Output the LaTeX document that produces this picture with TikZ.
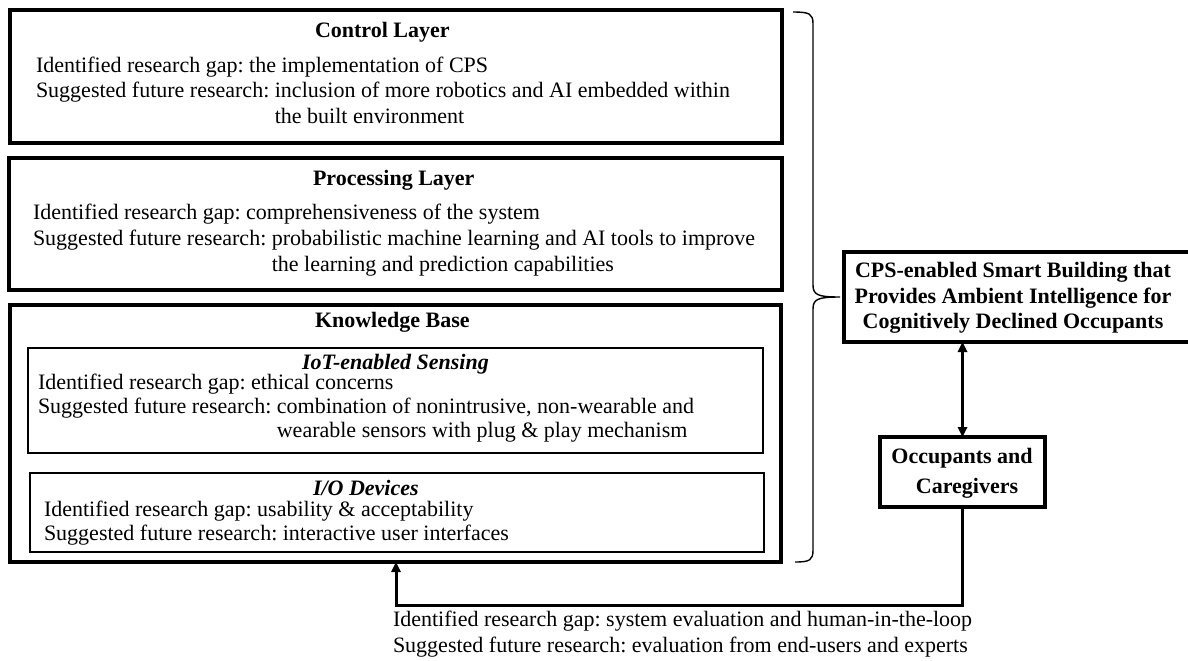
\documentclass[tikz,border=0pt]{standalone}
\usepackage{fontspec}
\setmainfont{Liberation Serif}
\usetikzlibrary{arrows.meta}
\frenchspacing

\newcommand{\hang}{\phantom{Suggested future research:\ }}

\begin{document}
\begin{tikzpicture}[x=0.5pt, y=-0.5pt,
  every node/.style={inner sep=0pt, outer sep=0pt},
  txt/.style={anchor=base west, font=\fontsize{11}{13}\selectfont},
  ttl/.style={anchor=base west, font=\fontsize{11}{13}\selectfont\bfseries},
  subttl/.style={anchor=base west, font=\fontsize{11}{13}\selectfont\bfseries\itshape},
  rtxt/.style={anchor=base, font=\fontsize{11}{13}\selectfont\bfseries},
  layer/.style={draw, line width=2pt, rectangle},
  inner/.style={draw, line width=0.7pt, rectangle},
  goal/.style={draw, line width=1.6pt, rectangle},
  tip/.style={Triangle[length=5pt, width=4.6pt]},
  link/.style={line width=1.5pt, -{Triangle[length=5pt, width=4.6pt]}},
  dlink/.style={line width=1.5pt, {Triangle[length=5pt, width=4.6pt]}-{Triangle[length=5pt, width=4.6pt]}},
  bracepath/.style={line width=0.7pt}
]
\useasboundingbox (0,0) rectangle (1188,660);
\clip (0,0) rectangle (1188,660);

% --- layer boxes ---
\node[layer, minimum width=386pt, minimum height=66.5pt] (ctrl) at (396,76.5) {};
\node[layer, minimum width=386.5pt, minimum height=66pt] (proc) at (395.5,224) {};
\node[layer, minimum width=385.5pt, minimum height=128.5pt] (kb) at (395.5,433.5) {};
\node[inner, minimum width=367.5pt, minimum height=52.5pt] (iot) at (395.5,400.5) {};
\node[inner, minimum width=367pt, minimum height=39.5pt] (io) at (397,512.5) {};

% --- Control Layer ---
\node[ttl] (ctrlT) at (315,37) {Control Layer};
\node[txt] (ctrl1) at (36,72) {Identified research gap: the implementation of CPS};
\node[txt] (ctrl2) at (36,97.5) {Suggested future research: inclusion of more robotics and AI embedded within};
\node[txt] (ctrl3) at (36,123) {\hang the built environment};

% --- Processing Layer ---
\node[ttl] (procT) at (313,185) {Processing Layer};
\node[txt] (proc1) at (33,219) {Identified research gap: comprehensiveness of the system};
\node[txt] (proc2) at (33,245) {Suggested future research: probabilistic machine learning and AI tools to improve};
\node[txt] (proc3) at (33,271) {\hang the learning and prediction capabilities};

% --- Knowledge Base ---
\node[ttl] (kbT) at (315,327) {Knowledge Base};
\node[subttl] (iotT) at (302,369) {IoT-enabled Sensing};
\node[txt] (iot1) at (38,389) {Identified research gap: ethical concerns};
\node[txt] (iot2) at (38,413) {Suggested future research: combination of nonintrusive, non-wearable and};
\node[txt] (iot3) at (38,437.5) {\hang wearable sensors with plug \& play mechanism};
\node[subttl] (ioT) at (313,495) {I/O Devices};
\node[txt] (io1) at (44,516.5) {Identified research gap: usability \& acceptability};
\node[txt] (io2) at (44,540.5) {Suggested future research: interactive user interfaces};

% --- right-hand boxes ---
\node[goal, minimum width=174pt, minimum height=45pt] (cps) at (1018,297) {};
\node[rtxt] (cps1) at (1013,277) {CPS-enabled Smart Building that};
\node[rtxt] (cps2) at (1013,303) {Provides Ambient Intelligence for};
\node[rtxt] (cps3) at (1013,328) {Cognitively Declined Occupants};

\node[goal, minimum width=82.5pt, minimum height=35pt] (occ) at (962.5,472) {};
\node[rtxt] (occ1) at (962,463) {Occupants and};
\node[rtxt] (occ2) at (967,493) {Caregivers};

% --- brace grouping the three layers ---
\coordinate (btop) at (793,12);
\coordinate (btip) at (840,297);
\coordinate (bbot) at (795,562);
\draw[bracepath] (btop) .. controls (810,12) and (813,14) .. (813,24)
  -- (813,285) .. controls (813,295) and (818,297) .. (btip)
  .. controls (818,297) and (813,299) .. (813,309)
  -- (813,550) .. controls (813,560) and (810,562) .. (bbot);

% --- connectors ---
\draw[dlink] (occ.north) -- (occ.north |- cps.south);
\coordinate (fb) at (396,605);
\draw[link] (occ.south) |- (fb) -- (fb |- kb.south);

\node[txt] (fb1) at (393,626) {Identified research gap: system evaluation and human-in-the-loop};
\node[txt] (fb2) at (393,652) {Suggested future research: evaluation from end-users and experts};
\end{tikzpicture}
\end{document}
